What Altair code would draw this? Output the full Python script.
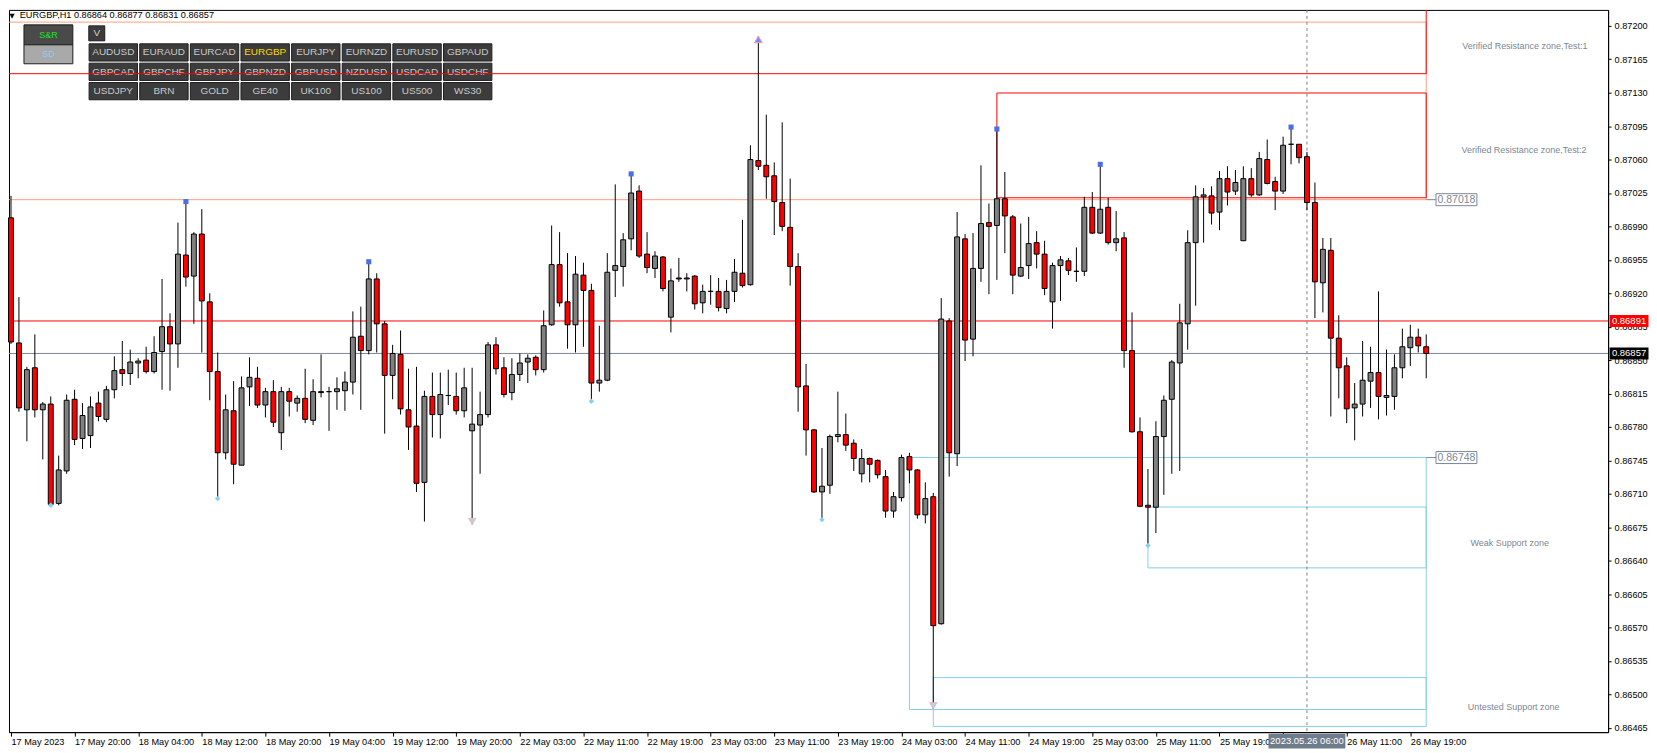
import altair as alt
import pandas as pd

# ---------------- data (prices in points, 1 point = 0.00001) ----------------
OPEN_PTS = [86999, 86868, 86798, 86842, 86798, 86804, 86700, 86734, 86809, 86768,
            86771, 86805, 86788, 86819, 86840, 86836, 86847, 86850, 86838, 86859,
            86885, 86867, 86960, 86938, 86982, 86911, 86838, 86753, 86797, 86740,
            86822, 86831, 86803, 86817, 86774, 86817, 86805, 86810, 86787, 86817,
            86817, 86817, 86818, 86827, 86875, 86860, 86935, 86888, 86834, 86856,
            86798, 86781, 86722, 86812, 86793, 86813, 86812, 86797, 86776, 86782,
            86793, 86866, 86842, 86816, 86835, 86848, 86853, 86840, 86887, 86950,
            86911, 86887, 86939, 86923, 86826, 86829, 86944, 86948, 86977, 87027,
            86961, 86946, 86958, 86895, 86936, 86935, 86938, 86910, 86922, 86922,
            86904, 86922, 86941, 86929, 87059, 87054, 87043, 87015, 86989, 86948,
            86823, 86777, 86712, 86719, 86770, 86772, 86763, 86731, 86747, 86745,
            86728, 86692, 86706, 86749, 86735, 86688, 86707, 86574, 86891, 86752,
            86977, 86872, 86946, 86994, 86991, 87019, 87000, 86938, 86949, 86973,
            86961, 86911, 86949, 86954, 86943, 86943, 87010, 86983, 87010, 86973,
            86978, 86860, 86775, 86698, 86696, 86770, 86809, 86847, 86888, 86973,
            87021, 87022, 87005, 87040, 87027, 86975, 87040, 87023, 87060, 87037,
            87027, 87076, 87076, 87063, 87015, 86931, 86965, 86873, 86844, 86800,
            86804, 86828, 86837, 86811, 86812, 86842, 86863, 86874, 86864]
HIGH_PTS = [87022, 86916, 86843, 86877, 86806, 86812, 86750, 86814, 86819, 86805,
            86812, 86817, 86823, 86854, 86870, 86861, 86852, 86864, 86875, 86935,
            86899, 86994, 87016, 86984, 87008, 86920, 86858, 86814, 86828, 86833,
            86853, 86843, 86821, 86829, 86822, 86821, 86813, 86841, 86830, 86856,
            86822, 86832, 86838, 86901, 86906, 86953, 86941, 86891, 86866, 86881,
            86841, 86843, 86818, 86837, 86837, 86840, 86837, 86842, 86842, 86817,
            86869, 86874, 86853, 86852, 86857, 86856, 86855, 86902, 86991, 86984,
            86962, 86959, 86952, 86930, 86886, 86962, 87034, 86983, 87045, 87033,
            86984, 86964, 86959, 86946, 86957, 86941, 86939, 86929, 86939, 86936,
            86934, 86956, 86997, 87075, 87189, 87107, 87057, 87099, 87040, 86962,
            86846, 86778, 86758, 86772, 86817, 86794, 86767, 86757, 86748, 86746,
            86735, 86712, 86751, 86753, 86736, 86722, 86711, 86915, 86894, 87005,
            86982, 86983, 87054, 87014, 87092, 87047, 87002, 86993, 87000, 86985,
            86975, 86952, 86959, 86957, 86968, 87021, 87026, 87055, 87020, 87006,
            86984, 86900, 86790, 86736, 86786, 86813, 86850, 86909, 86986, 87033,
            87030, 87032, 87048, 87053, 87049, 87053, 87051, 87068, 87081, 87042,
            87084, 87094, 87076, 87068, 87036, 86978, 86978, 86897, 86853, 86826,
            86870, 86864, 86922, 86861, 86856, 86883, 86887, 86883, 86877]
LOW_PTS = [86867, 86796, 86765, 86790, 86746, 86698, 86698, 86731, 86761, 86757,
           86758, 86786, 86785, 86810, 86823, 86824, 86831, 86836, 86836, 86819,
           86818, 86842, 86927, 86888, 86858, 86808, 86705, 86746, 86720, 86740,
           86802, 86800, 86790, 86780, 86756, 86791, 86796, 86784, 86782, 86811,
           86776, 86798, 86797, 86814, 86798, 86856, 86858, 86773, 86809, 86793,
           86756, 86712, 86681, 86769, 86768, 86803, 86793, 86790, 86678, 86731,
           86790, 86835, 86811, 86808, 86828, 86826, 86834, 86837, 86886, 86906,
           86862, 86858, 86864, 86807, 86817, 86828, 86916, 86927, 86965, 86957,
           86941, 86936, 86922, 86879, 86932, 86922, 86903, 86899, 86908, 86901,
           86899, 86911, 86926, 86928, 87049, 87019, 86981, 86985, 86928, 86796,
           86750, 86711, 86683, 86710, 86764, 86755, 86734, 86722, 86722, 86726,
           86685, 86685, 86702, 86721, 86684, 86679, 86485, 86573, 86728, 86739,
           86849, 86854, 86932, 86919, 86934, 86962, 86919, 86937, 86935, 86946,
           86918, 86883, 86912, 86939, 86932, 86938, 86982, 86982, 86971, 86964,
           86842, 86774, 86696, 86656, 86669, 86709, 86731, 86734, 86861, 86907,
           86973, 86992, 86986, 87012, 87023, 86975, 87021, 87022, 87034, 87007,
           87024, 87055, 87056, 87007, 86894, 86900, 86791, 86810, 86784, 86766,
           86791, 86800, 86788, 86792, 86798, 86831, 86844, 86858, 86831]
CLOSE_PTS = [86869, 86800, 86840, 86798, 86804, 86699, 86735, 86808, 86767, 86792,
             86801, 86791, 86819, 86839, 86836, 86848, 86849, 86838, 86858, 86885,
             86867, 86961, 86937, 86982, 86912, 86838, 86753, 86798, 86741, 86821,
             86832, 86803, 86817, 86785, 86817, 86807, 86810, 86788, 86817, 86816,
             86817, 86820, 86827, 86874, 86860, 86935, 86888, 86834, 86857, 86799,
             86780, 86721, 86812, 86793, 86814, 86813, 86797, 86821, 86783, 86793,
             86866, 86841, 86814, 86835, 86847, 86852, 86840, 86886, 86950, 86910,
             86887, 86940, 86923, 86826, 86829, 86942, 86949, 86976, 87025, 86959,
             86947, 86959, 86925, 86933, 86935, 86936, 86909, 86922, 86922, 86905,
             86922, 86942, 86928, 87060, 87053, 87042, 87016, 86990, 86948, 86822,
             86777, 86712, 86718, 86770, 86772, 86761, 86747, 86747, 86741, 86730,
             86692, 86707, 86748, 86735, 86688, 86705, 86572, 86893, 86753, 86979,
             86871, 86946, 86993, 86990, 87019, 87001, 86939, 86947, 86972, 86961,
             86925, 86949, 86955, 86944, 86943, 87010, 86983, 87008, 86973, 86977,
             86860, 86775, 86697, 86696, 86770, 86808, 86848, 86889, 86973, 87021,
             87023, 87004, 87040, 87026, 87036, 87040, 87023, 87061, 87035, 87027,
             87075, 87076, 87062, 87015, 86932, 86966, 86873, 86842, 86799, 86804,
             86829, 86837, 86812, 86813, 86842, 86864, 86874, 86865, 86857]

TICK_BARS = list(range(0, 177, 8))
TICK_LABELS = ["17 May 2023", "17 May 20:00", "18 May 04:00", "18 May 12:00", "18 May 20:00",
               "19 May 04:00", "19 May 12:00", "19 May 20:00", "22 May 03:00", "22 May 11:00",
               "22 May 19:00", "23 May 03:00", "23 May 11:00", "23 May 19:00", "24 May 03:00",
               "24 May 11:00", "24 May 19:00", "25 May 03:00", "25 May 11:00", "25 May 19:00",
               "26 May 03:00", "26 May 11:00", "26 May 19:00"]
Y_TICKS = [0.86465, 0.86500, 0.86535, 0.86570, 0.86605, 0.86640, 0.86675, 0.86710,
           0.86745, 0.86780, 0.86815, 0.86850, 0.86885, 0.86920, 0.86955, 0.86990,
           0.87025, 0.87060, 0.87095, 0.87130, 0.87165, 0.87200]

# zones (bar index start/end, price top/bottom)
ZONE_X0 = [-5, -5, 124, 113, 116, 143]
ZONE_X1 = [178, 178, 178, 178, 178, 178]
ZONE_TOP = [0.872039, 0.872174, 0.871297, 0.86748, 0.865176, 0.866962]
ZONE_BOT = [0.870180, 0.871499, 0.870200, 0.864842, 0.864665, 0.866325]
ZONE_COL = ["#ffa07a", "#ff0000", "#ff0000", "#87ceeb", "#87ceeb", "#87ceeb"]

ZONE_TEXT = ["Verified Resistance zone,Test:1", "Verified Resistance zone,Test:2",
             "Weak Support zone", "Untested Support zone"]
ZONE_TEXT_BAR = [190.4, 190.3, 188.5, 189.0]
ZONE_TEXT_PRICE = [0.871784, 0.870698, 0.866582, 0.864869]

ZONE_TAG_PRICE = [0.87018, 0.86748]
ZONE_TAG_BAR = 181.8

LEVEL_PRICE = [0.86891, 0.86857]
LEVEL_COL = ["#ff0000", "#7b8796"]
TAG_FILL = ["#ff0000", "#000000"]

SQUARE_BARS = [22, 45, 78, 124, 137, 161]
DOT_BARS = [5, 26, 73, 102, 143]
UP_ARROW_BARS = [94]
DOWN_ARROW_BARS = [58, 116]

CROSS_BAR = 163
CROSS_LABEL = "2023.05.26 06:00"
SYMBOL = "EURGBP,H1"

BTN_LABELS = [["AUDUSD", "EURAUD", "EURCAD", "EURGBP", "EURJPY", "EURNZD", "EURUSD", "GBPAUD"],
              ["GBPCAD", "GBPCHF", "GBPJPY", "GBPNZD", "GBPUSD", "NZDUSD", "USDCAD", "USDCHF"],
              ["USDJPY", "BRN", "GOLD", "GE40", "UK100", "US100", "US500", "WS30"]]
ACTIVE = "EURGBP"

# ---------------- build tables ----------------
PT = 1e5
n = len(OPEN_PTS)
candles = pd.DataFrame({
    "bar": list(range(n)),
    "open": [v / PT for v in OPEN_PTS],
    "high": [v / PT for v in HIGH_PTS],
    "low": [v / PT for v in LOW_PTS],
    "close": [v / PT for v in CLOSE_PTS],
})
candles["top"] = candles[["open", "close"]].max(axis=1)
candles["bot"] = candles[["open", "close"]].min(axis=1)
candles["fill"] = ["#808080" if c >= o else "#ff0000" for o, c in zip(OPEN_PTS, CLOSE_PTS)]

W, H = 1603, 724
FONT = "Liberation Sans"
xs = alt.Scale(domain=[-0.25, 200.875], nice=False, zero=False)
ys = alt.Scale(domain=[0.864605, 0.872167], nice=False, zero=False)

label_js = "[" + ",".join("'" + t + "'" for t in TICK_LABELS) + "]"
x_axis = alt.Axis(values=TICK_BARS, labelExpr=label_js + "[round(datum.value / 8)]",
                  labelAlign="left", labelBaseline="top", labelPadding=1, tickSize=4,
                  labelFont=FONT, labelFontSize=9.2, labelColor="black", tickColor="black",
                  domainColor="black", grid=False, labelOverlap=False, labelFlush=False, title=None)
y_axis = alt.Axis(orient="right", values=Y_TICKS, format=".5f", tickSize=3, labelPadding=3,
                  labelFont=FONT, labelFontSize=9.2, labelColor="black", tickColor="black",
                  domainColor="black", grid=False, labelOverlap=False, labelFlush=False, title=None)

def box_path(w, h):
    r = h / w
    return f"M-1,-{r:.4f}L1,-{r:.4f}L1,{r:.4f}L-1,{r:.4f}Z"

# ---- UI buttons ----
rows = []
for r, row in enumerate(BTN_LABELS):
    for c, lab in enumerate(row):
        x0 = 80.3 + 50.75 * c
        y0 = 34.0 + 19.4 * r
        rows.append(dict(x0=x0, x1=x0 + 48.5, y0=y0, y1=y0 + 17.3, label=lab,
                         fill="#3c3c3c", tcol="#ffd700" if lab == ACTIVE else "#c8c8c8", fs=10))
rows.append(dict(x0=15, x1=64, y0=15, y1=35, label="S&R", fill="#4a4a4a", tcol="#20e020", fs=9))
rows.append(dict(x0=15, x1=64, y0=35, y1=54, label="SD", fill="#a9a9a9", tcol="#87cefa", fs=9))
rows.append(dict(x0=80, x1=96, y0=16, y1=31, label="V", fill="#3c3c3c", tcol="#d0d0d0", fs=10))
btn = pd.DataFrame(rows)
btn["cx"] = (btn.x0 + btn.x1) / 2
btn["cy"] = (btn.y0 + btn.y1) / 2

btn_rect = alt.Chart(btn).mark_rect(stroke="#1e1e1e", strokeWidth=1).encode(
    x=alt.X("x0:Q", scale=None, axis=None), x2="x1:Q",
    y=alt.Y("y0:Q", scale=None, axis=None), y2="y1:Q",
    fill=alt.Fill("fill:N", scale=None))
btn_text = alt.Chart(btn).mark_text(font=FONT, align="center", baseline="middle").encode(
    x=alt.X("cx:Q", scale=None, axis=None), y=alt.Y("cy:Q", scale=None, axis=None),
    text="label:N", color=alt.Color("tcol:N", scale=None), size=alt.Size("fs:Q", scale=None))

# ---- zones (first layer with position scales: carries the axes) ----
zones = pd.DataFrame({"x0": ZONE_X0, "x1": ZONE_X1, "top": ZONE_TOP, "bot": ZONE_BOT, "col": ZONE_COL})
zone_layer = alt.Chart(zones).mark_rect(fill="transparent", strokeWidth=1, clip=True).encode(
    x=alt.X("x0:Q", scale=xs, axis=x_axis), x2="x1:Q",
    y=alt.Y("top:Q", scale=ys, axis=y_axis), y2="bot:Q",
    stroke=alt.Stroke("col:N", scale=None))

levels = pd.DataFrame({"p": LEVEL_PRICE, "col": LEVEL_COL, "tag": TAG_FILL})
level_layer = alt.Chart(levels).mark_rule(strokeWidth=1).encode(
    y=alt.Y("p:Q", scale=ys, axis=y_axis), color=alt.Color("col:N", scale=None))

cross = alt.Chart(pd.DataFrame({"bar": [CROSS_BAR]})).mark_rule(
    color="#808080", strokeDash=[3, 3], strokeWidth=1).encode(x=alt.X("bar:Q", scale=xs, axis=x_axis))

# ---- candles ----
wicks = alt.Chart(candles).mark_rule(color="black", strokeWidth=1).encode(
    x=alt.X("bar:Q", scale=xs, axis=x_axis),
    y=alt.Y("low:Q", scale=ys, axis=y_axis), y2="high:Q")
bodies = alt.Chart(candles).transform_calculate(
    xl="datum.bar - 0.31", xr="datum.bar + 0.31").mark_rect(stroke="black", strokeWidth=1).encode(
    x=alt.X("xl:Q", scale=xs, axis=x_axis), x2="xr:Q",
    y=alt.Y("top:Q", scale=ys, axis=y_axis), y2="bot:Q",
    fill=alt.Fill("fill:N", scale=None))

# ---- markers ----
def pos(field):
    return dict(x=alt.X("bar:Q", scale=xs, axis=x_axis), y=alt.Y(field, scale=ys, axis=y_axis))

sq = alt.Chart(candles[candles.bar.isin(SQUARE_BARS)]).mark_square(
    size=26, color="#4a6ee8", opacity=1).encode(**pos("high:Q"))
dots = alt.Chart(candles[candles.bar.isin(DOT_BARS)]).mark_point(
    shape="diamond", filled=True, size=30, color="#87cefa", opacity=1).encode(**pos("low:Q"))
up_arr = alt.Chart(candles[candles.bar.isin(UP_ARROW_BARS)]).mark_point(
    shape="triangle-up", filled=True, size=60, fill="#6f8fff", stroke="#ff9aa2", strokeWidth=1,
    opacity=1, yOffset=3).encode(**pos("high:Q"))
dn_arr = alt.Chart(candles[candles.bar.isin(DOWN_ARROW_BARS)]).mark_point(
    shape="triangle-down", filled=True, size=50, fill="#a8d8f0", stroke="#ffb0b0", strokeWidth=1,
    opacity=1, yOffset=-3).encode(**pos("low:Q"))

# ---- zone texts & tags ----
ztext = pd.DataFrame({"t": ZONE_TEXT, "bar": ZONE_TEXT_BAR, "p": ZONE_TEXT_PRICE})
ztext_layer = alt.Chart(ztext).mark_text(font=FONT, fontSize=9, color="#7b8796",
                                         align="center", baseline="middle").encode(
    text="t:N", **pos("p:Q"))

tags = pd.DataFrame({"p": ZONE_TAG_PRICE, "bar": [ZONE_TAG_BAR] * len(ZONE_TAG_PRICE)})
tag_conn = alt.Chart(tags).transform_calculate(a="178", b="datum.bar - 2.5").mark_rule(
    color="#7b8796", strokeWidth=1).encode(
    x=alt.X("a:Q", scale=xs, axis=x_axis), x2="b:Q", y=alt.Y("p:Q", scale=ys, axis=y_axis))
tag_box = alt.Chart(tags).mark_point(shape=box_path(41, 12), size=41 ** 2, filled=True,
                                     fill="white", stroke="#7b8796", strokeWidth=1, opacity=1).encode(
    **pos("p:Q"))
tag_txt = alt.Chart(tags).mark_text(font=FONT, fontSize=10.5, color="#7b8796",
                                    align="center", baseline="middle").encode(
    text=alt.Text("p:Q", format=".5f"), **pos("p:Q"))

# ---- price tags on axis ----
ax_box = alt.Chart(levels).mark_point(shape=box_path(39, 12), size=39 ** 2, filled=True,
                                      opacity=1, clip=False).encode(
    x=alt.value(W + 21), y=alt.Y("p:Q", scale=ys, axis=y_axis), fill=alt.Fill("tag:N", scale=None))
ax_txt = alt.Chart(levels).mark_text(font=FONT, fontSize=9.5, color="white", align="center",
                                     baseline="middle", clip=False).encode(
    x=alt.value(W + 21), y=alt.Y("p:Q", scale=ys, axis=y_axis), text=alt.Text("p:Q", format=".5f"))

# ---- crosshair time tag ----
ct = pd.DataFrame({"bar": [CROSS_BAR], "t": [CROSS_LABEL]})
ct_box = alt.Chart(ct).mark_point(shape=box_path(77, 15), size=77 ** 2, filled=True,
                                  fill="#6e7c8c", opacity=1, clip=False).encode(
    x=alt.X("bar:Q", scale=xs, axis=x_axis), y=alt.value(H + 9))
ct_txt = alt.Chart(ct).mark_text(font=FONT, fontSize=9.5, color="white", align="center",
                                 baseline="middle", clip=False).encode(
    x=alt.X("bar:Q", scale=xs, axis=x_axis), y=alt.value(H + 9), text="t:N")

# ---- header ----
last = candles.iloc[-1]
header = f"{SYMBOL}  {last.open:.5f} {last.high:.5f} {last.low:.5f} {last.close:.5f}"
head_txt = alt.Chart(pd.DataFrame({"t": [header]})).mark_text(
    font=FONT, fontSize=9.2, color="black", align="left", baseline="top").encode(
    x=alt.value(10.7), y=alt.value(1.5), text="t:N")
head_tri = alt.Chart(pd.DataFrame({"t": ["\u25bc"]})).mark_text(
    font="DejaVu Sans", fontSize=6.5, color="black", align="left", baseline="top").encode(
    x=alt.value(0.5), y=alt.value(3), text="t:N")

chart = alt.layer(
    btn_rect, btn_text, zone_layer, level_layer, cross, wicks, bodies,
    sq, dots, up_arr, dn_arr, ztext_layer, tag_conn, tag_box, tag_txt,
    ax_box, ax_txt, ct_box, ct_txt, head_txt, head_tri
).properties(
    width=W, height=H, background="white",
    padding={"left": 0, "top": 0, "right": 0, "bottom": 0}
).configure_view(stroke="black", strokeWidth=1)

chart.save("out.html", embed_options={"renderer": "svg", "actions": False})
